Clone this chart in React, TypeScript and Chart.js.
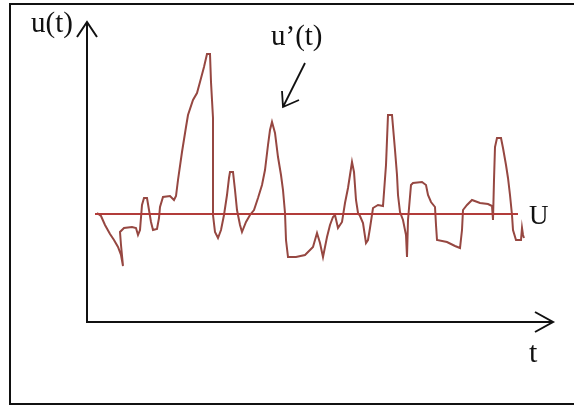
import React, { useEffect, useRef } from "react";
import { Chart, registerables } from "chart.js";

Chart.register(...registerables);

// time values of the fluctuating signal u(t)
const tValues: number[] = [
  10, 14, 18, 23, 27, 31, 34, 36, 34, 33,
  37, 45, 49, 51, 53, 55, 57, 60, 62, 64,
  66, 70, 72, 73, 76, 83, 87, 89, 91, 95,
  99, 101, 106, 110, 113, 117, 120, 123, 124, 126,
  126, 128, 131, 134, 137, 140, 142, 143, 146, 148,
  150, 153, 155, 159, 163, 167, 171, 175, 178, 181,
  183, 185, 188, 191, 194, 196, 198, 199, 201, 209,
  218, 223, 226, 230, 233, 236, 240, 243, 246,
  248, 251, 255, 258, 261, 263, 265, 267, 269, 271,
  273, 276, 279, 281, 283, 286, 291, 296, 299, 301,
  305, 308, 310, 311, 313, 316, 319, 320, 321, 324,
  326, 335, 339, 341, 344, 348, 349, 350, 360, 368,
  373, 375, 376, 380, 385, 393, 401, 405, 406, 407,
  408, 410, 414, 416, 419, 421, 423, 425, 426, 429,
  434, 435, 436, 437,
];

// signal values u(t)
const uValues: number[] = [
  109, 106, 97, 88, 82, 75, 67, 56, 77, 90,
  94, 95, 94, 87, 92, 117, 124, 124, 112, 100,
  92, 93, 104, 115, 125, 126, 122, 126, 142, 170,
  195, 207, 222, 229, 240, 255, 268, 268, 240, 204,
  107, 90, 84, 92, 107, 127, 144, 150, 150, 132,
  112, 97, 90, 100, 107, 112, 124, 137, 152, 177,
  192, 200, 189, 165, 147, 132, 109, 82, 65, 65,
  67, 72, 75, 89, 79, 65, 85, 97, 105,
  107, 94, 100, 119, 134, 147, 160, 150, 122, 109,
  106, 99, 79, 82, 94, 114, 117, 116, 157, 207,
  207, 172, 147, 127, 110, 102, 87, 65, 102, 137,
  139, 140, 137, 127, 120, 115, 97, 82, 80, 76,
  74, 92, 112, 117, 122, 119, 118, 116, 102, 142,
  175, 184, 184, 174, 157, 144, 127, 107, 92, 82,
  82, 94, 87, 84,
];

// mean value U
const meanT: number[] = [8, 431];
const meanU = 108;

const xMax = 466;
const yMax = 300;

const labels = { yAxis: "u(t)", xAxis: "t", fluct: "u\u2019(t)", mean: "U" };

export default function App() {
  const ref = useRef<HTMLCanvasElement | null>(null);

  useEffect(() => {
    if (!ref.current) return;
    const decor = {
      id: "decor",
      afterDraw(chart: any) {
        const ctx = chart.ctx as CanvasRenderingContext2D;
        const xs = chart.scales.x;
        const ys = chart.scales.y;
        const x0 = xs.getPixelForValue(0);
        const y0 = ys.getPixelForValue(0);
        const xEnd = xs.getPixelForValue(xMax);
        const yTop = ys.getPixelForValue(yMax);
        ctx.save();
        // frame
        ctx.strokeStyle = "#111";
        ctx.lineWidth = 2;
        ctx.beginPath();
        ctx.moveTo(576, 4);
        ctx.lineTo(10, 4);
        ctx.lineTo(10, 404);
        ctx.lineTo(576, 404);
        ctx.stroke();
        // axes
        ctx.lineWidth = 2;
        ctx.beginPath();
        ctx.moveTo(x0, yTop);
        ctx.lineTo(x0, y0);
        ctx.lineTo(xEnd, y0);
        ctx.stroke();
        // arrows
        ctx.beginPath();
        ctx.moveTo(x0 - 10, yTop + 15);
        ctx.lineTo(x0, yTop);
        ctx.lineTo(x0 + 10, yTop + 15);
        ctx.moveTo(xEnd - 18, y0 - 10);
        ctx.lineTo(xEnd, y0);
        ctx.lineTo(xEnd - 18, y0 + 10);
        ctx.stroke();
        // pointer arrow to u'(t)
        ctx.lineWidth = 1.8;
        ctx.beginPath();
        ctx.moveTo(305, 63);
        ctx.lineTo(283, 107);
        ctx.moveTo(282, 91);
        ctx.lineTo(283, 107);
        ctx.lineTo(299, 100);
        ctx.stroke();
        // texts
        ctx.fillStyle = "#111";
        ctx.textBaseline = "alphabetic";
        ctx.textAlign = "left";
        ctx.font = '29px "Liberation Serif", "Times New Roman", serif';
        ctx.fillText(labels.yAxis, 31, 32);
        ctx.fillText(labels.fluct, 271, 45);
        ctx.font = '30px "Liberation Serif", "Times New Roman", serif';
        ctx.fillText(labels.xAxis, 529, 362);
        ctx.font = '27px "Liberation Serif", "Times New Roman", serif';
        const uy = ys.getPixelForValue(meanU);
        ctx.fillText(labels.mean, 529, uy + 10);
        ctx.restore();
      },
    };

    const chart = new Chart(ref.current, {
      type: "line",
      data: {
        datasets: [
          {
            data: meanT.map((t) => ({ x: t, y: meanU })),
            borderColor: "#b23c3a",
            borderWidth: 2,
            pointRadius: 0,
            tension: 0,
          },
          {
            data: tValues.map((t, i) => ({ x: t, y: uValues[i] })),
            borderColor: "#964741",
            borderWidth: 2,
            pointRadius: 0,
            tension: 0,
          },
        ],
      },
      options: {
        animation: false,
        responsive: false,
        maintainAspectRatio: false,
        layout: { padding: { left: 87, top: 22, right: 21, bottom: 83 } },
        plugins: {
          legend: { display: false },
          tooltip: { enabled: false },
          title: { display: false },
        },
        scales: {
          x: { type: "linear", min: 0, max: xMax, display: false },
          y: { type: "linear", min: 0, max: yMax, display: false },
        },
      },
      plugins: [decor],
    });
    return () => chart.destroy();
  }, []);

  return (
    <div style={{ position: "fixed", left: 0, top: 0, width: 574, height: 405, background: "#fff" }}>
      <canvas ref={ref} width={574} height={405} style={{ display: "block" }} />
    </div>
  );
}
